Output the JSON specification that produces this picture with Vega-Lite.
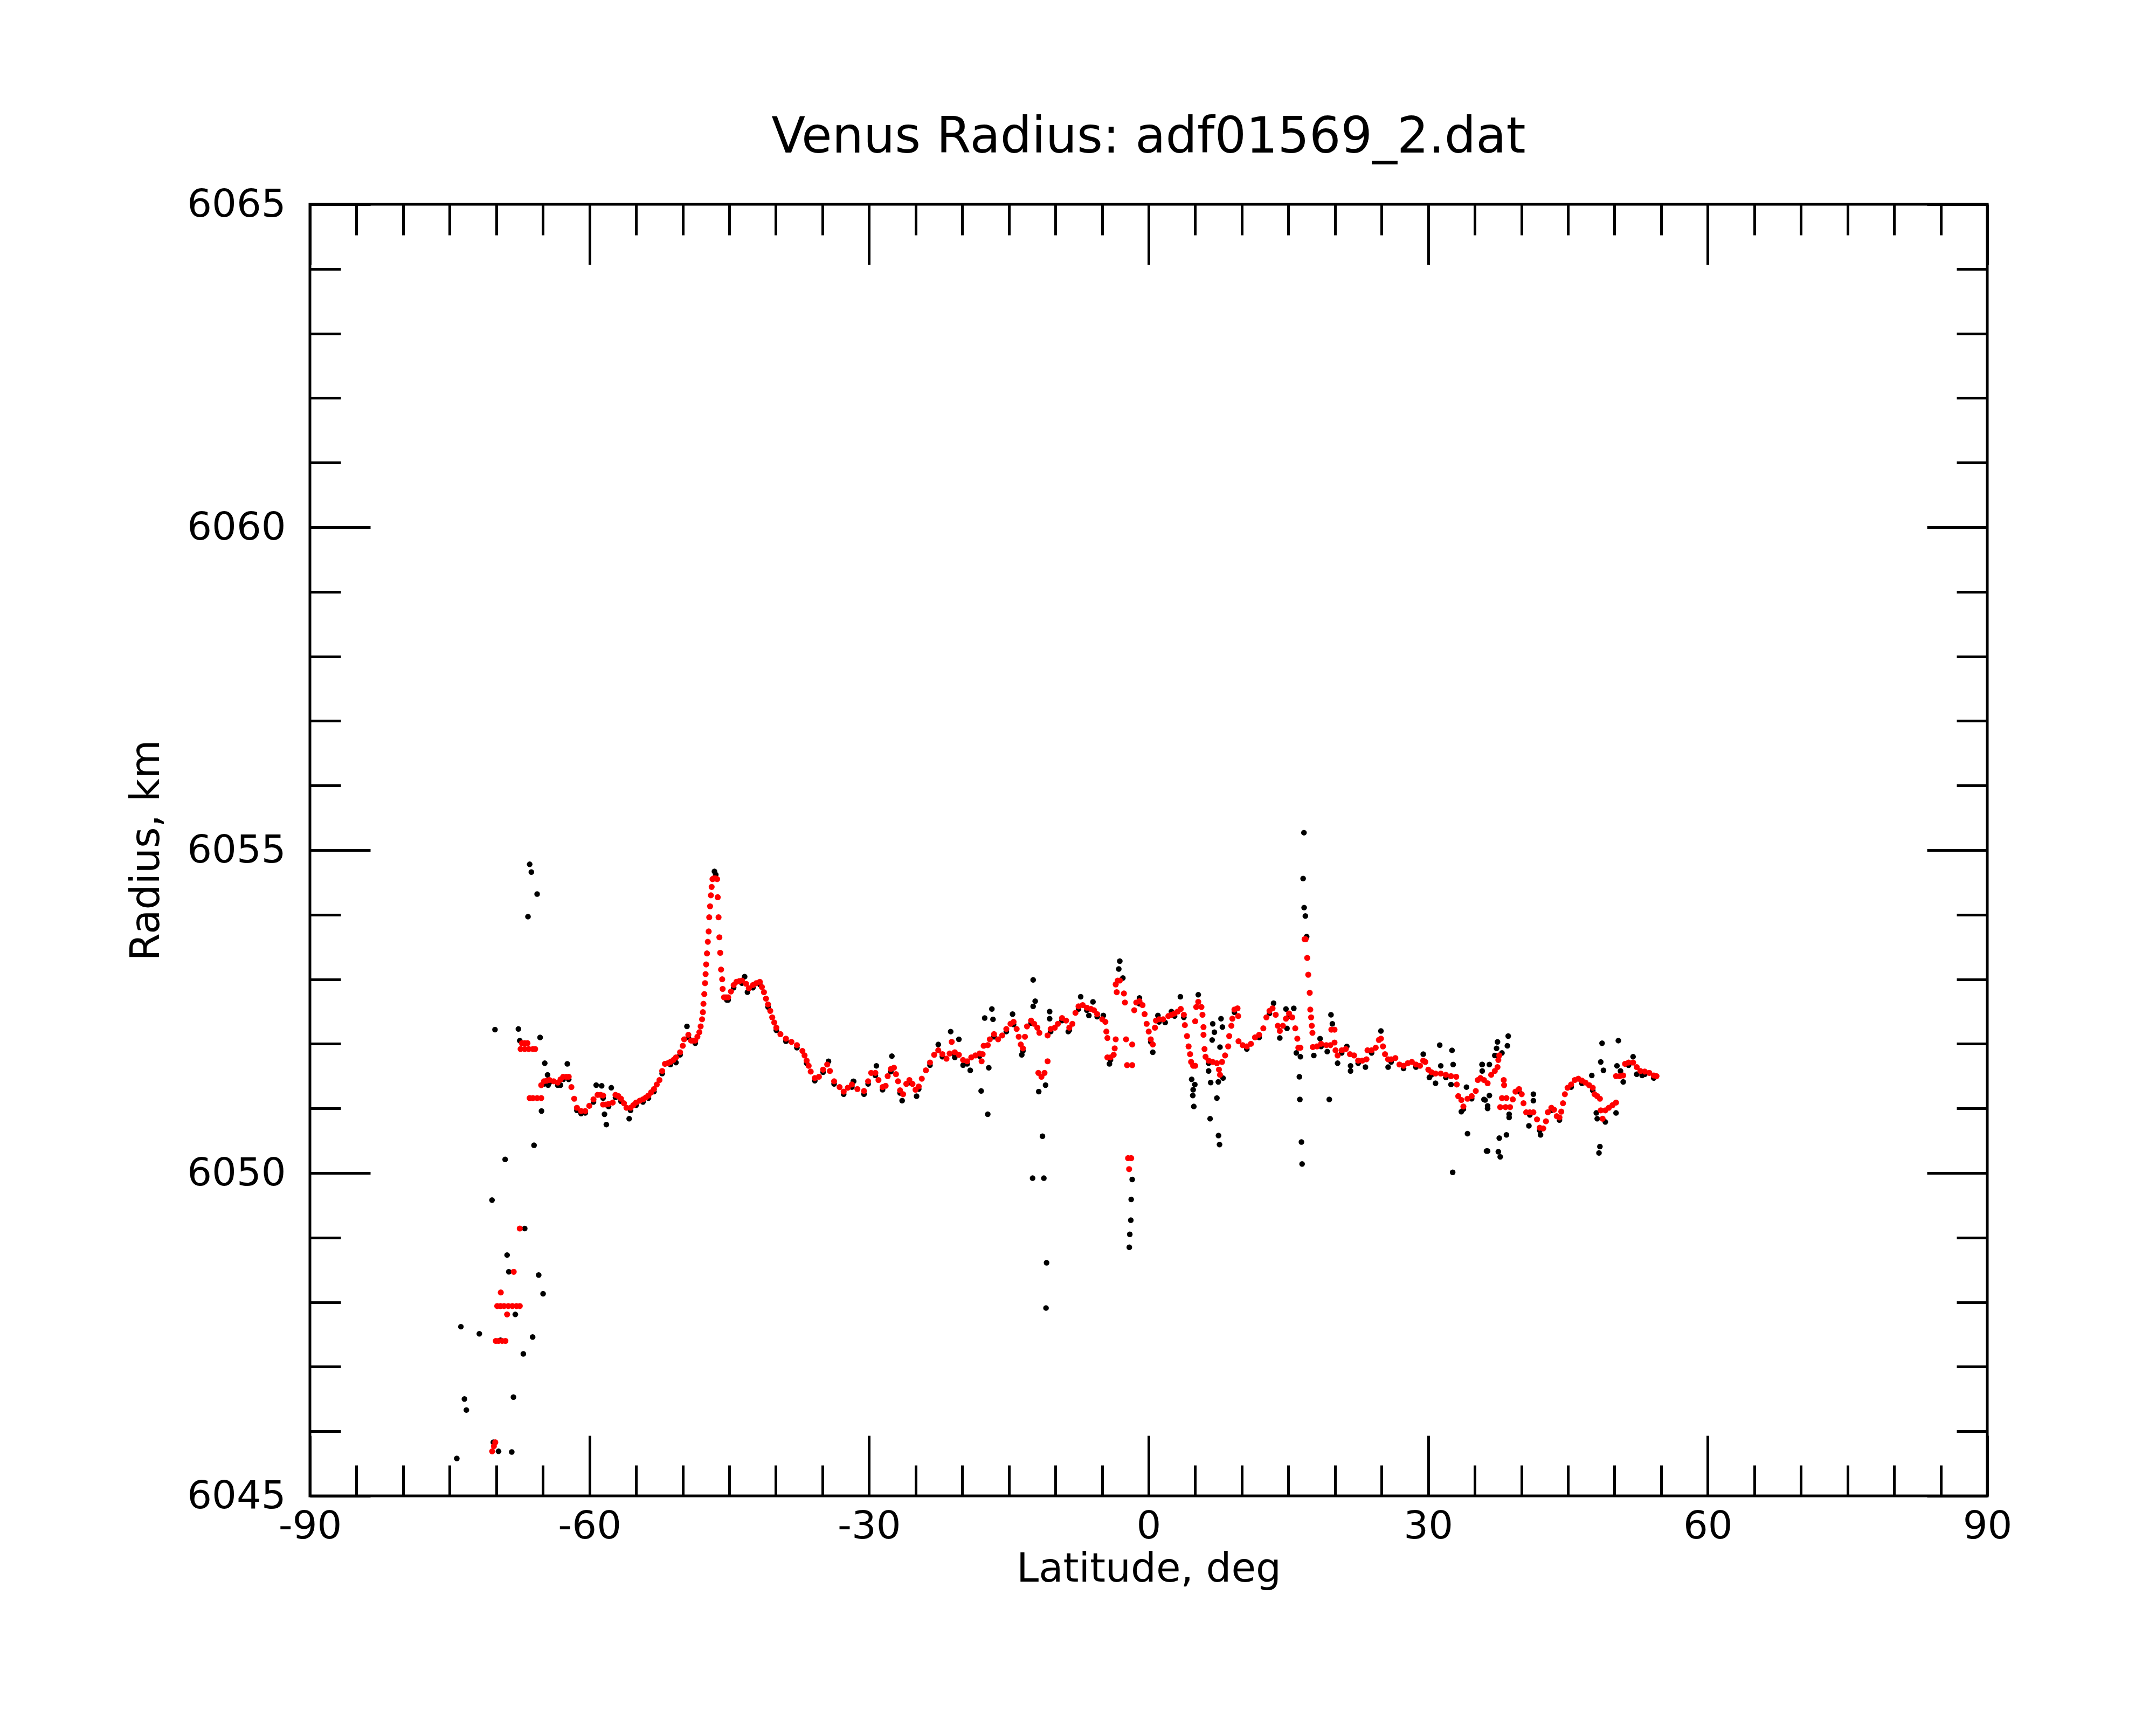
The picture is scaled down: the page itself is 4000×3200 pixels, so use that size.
{
  "$schema": "https://vega.github.io/schema/vega-lite/v6.json",
  "width": 3112,
  "height": 2396,
  "autosize": {"type": "none"},
  "padding": {"left": 575, "top": 379, "right": 313, "bottom": 425},
  "background": "white",
  "title": {"text": "Venus Radius: adf01569_2.dat", "font": "DejaVu Sans", "fontSize": 92, "fontWeight": "normal", "color": "black", "anchor": "middle", "frame": "group", "baseline": "alphabetic", "offset": -32},
  "config": {
    "view": {"stroke": "black", "strokeWidth": 5},
    "axis": {"domain": false, "grid": false, "tickColor": "black", "tickWidth": 5, "tickCap": "butt", "labelFont": "DejaVu Sans", "labelFontSize": 72, "labelColor": "black", "labelLimit": 0, "titleFont": "DejaVu Sans", "titleFontSize": 74, "titleFontWeight": "normal", "titleColor": "black", "labelFlush": false, "labelOverlap": false}
  },
  "datasets": {
    "smooth": [
      {"lat":-70.44,"r":6045.69},{"lat":-70.26,"r":6045.77},{"lat":-70.11,"r":6045.83},
      {"lat":-70.05,"r":6047.40},{"lat":-69.76,"r":6047.40},{"lat":-69.37,"r":6047.40},{"lat":-69.02,"r":6047.40},
      {"lat":-69.90,"r":6047.94},{"lat":-69.55,"r":6047.94},{"lat":-69.17,"r":6047.94},{"lat":-68.72,"r":6047.94},{"lat":-68.28,"r":6047.94},{"lat":-67.84,"r":6047.94},{"lat":-67.48,"r":6047.94},
      {"lat":-69.52,"r":6048.15},{"lat":-68.84,"r":6047.81},{"lat":-68.13,"r":6048.47},{"lat":-67.48,"r":6049.14},
      {"lat":-67.25,"r":6052.01},{"lat":-66.95,"r":6052.01},{"lat":-66.66,"r":6052.01},
      {"lat":-67.39,"r":6051.92},{"lat":-66.95,"r":6051.92},{"lat":-66.51,"r":6051.92},{"lat":-66.07,"r":6051.92},{"lat":-65.83,"r":6051.92},
      {"lat":-66.42,"r":6051.16},{"lat":-66.07,"r":6051.16},{"lat":-65.62,"r":6051.16},{"lat":-65.18,"r":6051.16},
      {"lat":-65.18,"r":6051.36},{"lat":-64.89,"r":6051.42},{"lat":-64.60,"r":6051.43},{"lat":-64.30,"r":6051.44},{"lat":-63.85,"r":6051.42},{"lat":-63.41,"r":6051.40},{"lat":-63.10,"r":6051.45},{"lat":-62.82,"r":6051.49},{"lat":-62.50,"r":6051.49},{"lat":-62.23,"r":6051.49},
      {"lat":-61.94,"r":6051.33},{"lat":-61.64,"r":6051.15},{"lat":-61.35,"r":6051.01},{"lat":-60.90,"r":6050.96},{"lat":-60.46,"r":6050.96},{"lat":-60.02,"r":6051.04},{"lat":-59.57,"r":6051.14},{"lat":-59.13,"r":6051.21},{"lat":-58.80,"r":6051.21},{"lat":-58.54,"r":6051.20},
      {"lat":-58.54,"r":6051.06},{"lat":-58.25,"r":6051.06},{"lat":-57.95,"r":6051.07},{"lat":-57.51,"r":6051.09},{"lat":-57.21,"r":6051.21},{"lat":-56.90,"r":6051.19},{"lat":-56.62,"r":6051.15},{"lat":-56.30,"r":6051.08},{"lat":-56.03,"r":6051.01},{"lat":-55.59,"r":6051.01},{"lat":-55.30,"r":6051.05},{"lat":-55.00,"r":6051.09},{"lat":-54.60,"r":6051.12},{"lat":-54.26,"r":6051.14},{"lat":-53.95,"r":6051.17},{"lat":-53.67,"r":6051.20},{"lat":-53.38,"r":6051.25},{"lat":-53.08,"r":6051.30},{"lat":-52.78,"r":6051.37},{"lat":-52.49,"r":6051.44},{"lat":-52.20,"r":6051.58},{"lat":-51.90,"r":6051.69},{"lat":-51.60,"r":6051.70},{"lat":-51.31,"r":6051.72},{"lat":-51.00,"r":6051.75},{"lat":-50.72,"r":6051.79},{"lat":-50.28,"r":6051.87},{"lat":-49.99,"r":6051.97},{"lat":-49.84,"r":6052.07},{"lat":-49.39,"r":6052.14},{"lat":-49.10,"r":6052.05},{"lat":-48.88,"r":6052.05},{"lat":-48.65,"r":6052.05},{"lat":-48.42,"r":6052.11},{"lat":-48.21,"r":6052.18},{"lat":-48.07,"r":6052.27},{"lat":-47.92,"r":6052.38},{"lat":-47.83,"r":6052.49},{"lat":-47.77,"r":6052.62},{"lat":-47.68,"r":6052.77},{"lat":-47.60,"r":6052.94},{"lat":-47.54,"r":6053.08},{"lat":-47.48,"r":6053.23},{"lat":-47.39,"r":6053.40},{"lat":-47.30,"r":6053.58},{"lat":-47.21,"r":6053.74},{"lat":-47.15,"r":6053.96},{"lat":-47.06,"r":6054.13},{"lat":-46.97,"r":6054.30},{"lat":-46.89,"r":6054.43},{"lat":-46.80,"r":6054.55},{"lat":-46.69,"r":6054.56},{"lat":-46.59,"r":6054.56},{"lat":-46.45,"r":6054.56},{"lat":-46.30,"r":6054.55},{"lat":-46.24,"r":6054.27},{"lat":-46.15,"r":6053.96},{"lat":-46.06,"r":6053.65},{"lat":-45.97,"r":6053.41},{"lat":-45.88,"r":6053.15},{"lat":-45.76,"r":6053.00},{"lat":-45.71,"r":6052.85},{"lat":-45.56,"r":6052.72},{"lat":-45.35,"r":6052.72},{"lat":-45.12,"r":6052.72},{"lat":-44.82,"r":6052.81},{"lat":-44.53,"r":6052.91},{"lat":-44.23,"r":6052.96},{"lat":-43.94,"r":6052.97},{"lat":-43.64,"r":6052.98},{"lat":-43.20,"r":6052.93},{"lat":-42.90,"r":6052.86},{"lat":-42.46,"r":6052.91},{"lat":-42.10,"r":6052.94},{"lat":-41.72,"r":6052.96},{"lat":-41.50,"r":6052.88},{"lat":-41.28,"r":6052.80},{"lat":-41.06,"r":6052.70},{"lat":-40.84,"r":6052.61},{"lat":-40.60,"r":6052.51},{"lat":-40.39,"r":6052.41},{"lat":-40.17,"r":6052.33},{"lat":-39.95,"r":6052.25},{"lat":-39.51,"r":6052.15},{"lat":-38.92,"r":6052.08},{"lat":-38.33,"r":6052.03},{"lat":-37.74,"r":6051.98},{"lat":-37.15,"r":6051.89},{"lat":-36.92,"r":6051.82},{"lat":-36.70,"r":6051.74},{"lat":-36.48,"r":6051.66},{"lat":-36.26,"r":6051.57},{"lat":-35.82,"r":6051.47},{"lat":-35.38,"r":6051.49},{"lat":-34.93,"r":6051.60},{"lat":-34.49,"r":6051.68},{"lat":-34.20,"r":6051.58},{"lat":-33.75,"r":6051.42},{"lat":-33.16,"r":6051.33},{"lat":-32.72,"r":6051.26},{"lat":-32.28,"r":6051.32},{"lat":-31.84,"r":6051.37},{"lat":-31.25,"r":6051.30},
      {"lat":-30.54,"r":6051.27},{"lat":-30.10,"r":6051.42},{"lat":-29.77,"r":6051.55},{"lat":-29.32,"r":6051.55},{"lat":-28.99,"r":6051.44},{"lat":-28.55,"r":6051.33},{"lat":-28.22,"r":6051.35},{"lat":-28.00,"r":6051.50},{"lat":-27.66,"r":6051.61},{"lat":-27.33,"r":6051.63},{"lat":-27.11,"r":6051.53},{"lat":-26.89,"r":6051.42},{"lat":-26.67,"r":6051.28},{"lat":-26.34,"r":6051.22},{"lat":-26.00,"r":6051.38},{"lat":-25.67,"r":6051.44},{"lat":-25.34,"r":6051.38},{"lat":-25.01,"r":6051.29},{"lat":-24.67,"r":6051.34},{"lat":-24.34,"r":6051.46},{"lat":-23.90,"r":6051.59},{"lat":-23.46,"r":6051.71},{"lat":-23.01,"r":6051.83},{"lat":-22.57,"r":6051.90},{"lat":-22.13,"r":6051.84},{"lat":-21.69,"r":6051.77},{"lat":-21.35,"r":6051.85},{"lat":-21.13,"r":6052.03},{"lat":-20.80,"r":6051.87},{"lat":-20.36,"r":6051.83},{"lat":-19.91,"r":6051.75},{"lat":-19.47,"r":6051.73},{"lat":-19.03,"r":6051.79},{"lat":-18.59,"r":6051.82},{"lat":-18.14,"r":6051.85},{"lat":-17.92,"r":6051.73},{"lat":-17.81,"r":6051.84},{"lat":-17.70,"r":6051.97},{"lat":-17.26,"r":6051.98},{"lat":-17.04,"r":6052.07},{"lat":-16.59,"r":6052.15},{"lat":-16.15,"r":6052.07},{"lat":-15.71,"r":6052.13},{"lat":-15.27,"r":6052.23},{"lat":-14.82,"r":6052.31},{"lat":-14.49,"r":6052.34},{"lat":-14.16,"r":6052.23},{"lat":-13.94,"r":6052.11},{"lat":-13.72,"r":6051.99},{"lat":-13.49,"r":6051.93},{"lat":-13.27,"r":6052.11},{"lat":-13.05,"r":6052.27},{"lat":-12.61,"r":6052.36},{"lat":-12.28,"r":6052.31},{"lat":-11.94,"r":6052.25},{"lat":-11.72,"r":6052.17},{"lat":-11.83,"r":6051.55},{"lat":-11.50,"r":6051.49},{"lat":-11.17,"r":6051.55},{"lat":-10.84,"r":6051.73},{"lat":-10.84,"r":6052.13},{"lat":-10.51,"r":6052.23},{"lat":-10.07,"r":6052.25},{"lat":-9.73,"r":6052.31},{"lat":-9.29,"r":6052.40},{"lat":-8.85,"r":6052.36},{"lat":-8.51,"r":6052.25},{"lat":-8.18,"r":6052.31},{"lat":-7.85,"r":6052.48},{"lat":-7.52,"r":6052.58},{"lat":-7.07,"r":6052.60},{"lat":-6.63,"r":6052.56},{"lat":-6.19,"r":6052.54},{"lat":-5.86,"r":6052.52},{"lat":-5.52,"r":6052.46},{"lat":-4.97,"r":6052.38},{"lat":-4.64,"r":6052.34},{"lat":-4.53,"r":6052.19},{"lat":-4.42,"r":6052.09},{"lat":-4.42,"r":6051.79},{"lat":-4.09,"r":6051.79},{"lat":-3.75,"r":6051.83},{"lat":-3.64,"r":6051.93},{"lat":-3.53,"r":6052.07},{"lat":-3.53,"r":6052.92},{"lat":-3.42,"r":6052.80},{"lat":-3.31,"r":6052.98},{"lat":-3.09,"r":6052.98},{"lat":-2.65,"r":6052.78},{"lat":-2.54,"r":6052.64},{"lat":-2.42,"r":6052.07},{"lat":-2.31,"r":6051.67},{"lat":-1.76,"r":6051.67},{"lat":-1.76,"r":6051.99},{"lat":-2.20,"r":6050.23},{"lat":-1.87,"r":6050.23},{"lat":-2.09,"r":6050.06},{"lat":-1.54,"r":6052.52},{"lat":-1.32,"r":6052.64},{"lat":-0.98,"r":6052.66},{"lat":-0.65,"r":6052.60},{"lat":-0.43,"r":6052.46},{"lat":-0.21,"r":6052.31},{"lat":0.01,"r":6052.19},{"lat":0.23,"r":6052.07},{"lat":0.45,"r":6051.99},{"lat":0.68,"r":6052.25},{"lat":0.79,"r":6052.36},{"lat":1.12,"r":6052.38},{"lat":1.56,"r":6052.38},
      {"lat":2.12,"r":6052.43},{"lat":2.45,"r":6052.45},{"lat":2.79,"r":6052.47},{"lat":3.12,"r":6052.50},{"lat":3.45,"r":6052.54},{"lat":3.78,"r":6052.45},{"lat":3.89,"r":6052.29},{"lat":4.12,"r":6052.12},{"lat":4.29,"r":6051.96},{"lat":4.45,"r":6051.84},{"lat":4.56,"r":6051.72},{"lat":4.78,"r":6051.66},{"lat":5.00,"r":6051.66},{"lat":5.00,"r":6052.35},{"lat":5.11,"r":6052.57},{"lat":5.33,"r":6052.65},{"lat":5.67,"r":6052.57},{"lat":5.78,"r":6052.45},{"lat":5.89,"r":6052.26},{"lat":5.89,"r":6052.14},{"lat":6.00,"r":6051.92},{"lat":6.11,"r":6051.80},{"lat":6.44,"r":6051.74},{"lat":6.88,"r":6051.72},{"lat":7.33,"r":6051.70},{"lat":7.55,"r":6051.60},{"lat":7.66,"r":6051.52},{"lat":7.88,"r":6051.72},{"lat":8.21,"r":6051.82},{"lat":8.54,"r":6051.96},{"lat":8.65,"r":6052.12},{"lat":8.88,"r":6052.28},{"lat":8.99,"r":6052.39},{"lat":9.21,"r":6052.53},{"lat":9.54,"r":6052.55},{"lat":9.61,"r":6052.43},{"lat":9.65,"r":6052.04},{"lat":10.09,"r":6051.98},{"lat":10.54,"r":6051.96},{"lat":10.98,"r":6052.00},{"lat":11.42,"r":6052.10},{"lat":11.86,"r":6052.14},{"lat":12.31,"r":6052.24},{"lat":12.64,"r":6052.41},{"lat":12.97,"r":6052.51},{"lat":13.30,"r":6052.55},{"lat":13.64,"r":6052.45},{"lat":13.86,"r":6052.28},{"lat":14.08,"r":6052.20},{"lat":14.41,"r":6052.28},{"lat":14.74,"r":6052.39},{"lat":15.07,"r":6052.47},{"lat":15.41,"r":6052.41},{"lat":15.74,"r":6052.24},{"lat":15.96,"r":6052.08},{"lat":16.07,"r":6051.94},{"lat":16.29,"r":6051.94},{"lat":16.74,"r":6053.62},{"lat":16.85,"r":6053.62},{"lat":17.02,"r":6053.33},{"lat":17.13,"r":6053.07},{"lat":17.29,"r":6052.79},{"lat":17.35,"r":6052.53},{"lat":17.44,"r":6052.41},{"lat":17.51,"r":6052.28},{"lat":17.58,"r":6052.17},{"lat":17.62,"r":6051.95},{"lat":18.06,"r":6051.96},{"lat":18.51,"r":6052.00},{"lat":19.06,"r":6051.98},{"lat":19.50,"r":6051.98},{"lat":19.61,"r":6052.22},{"lat":19.95,"r":6052.22},{"lat":19.95,"r":6052.02},{"lat":20.06,"r":6051.90},{"lat":20.28,"r":6051.82},{"lat":20.72,"r":6051.90},{"lat":21.16,"r":6051.92},{"lat":21.61,"r":6051.84},{"lat":22.05,"r":6051.82},{"lat":22.49,"r":6051.74},{"lat":22.93,"r":6051.74},{"lat":23.38,"r":6051.76},{"lat":23.49,"r":6051.90},{"lat":23.93,"r":6051.90},{"lat":24.37,"r":6051.94},{"lat":24.71,"r":6052.06},{"lat":24.93,"r":6052.08},{"lat":25.15,"r":6051.96},{"lat":25.37,"r":6051.84},{"lat":25.70,"r":6051.76},{"lat":26.03,"r":6051.76},{"lat":26.48,"r":6051.78},{"lat":26.92,"r":6051.68},{"lat":27.36,"r":6051.66},{"lat":27.81,"r":6051.70},{"lat":28.25,"r":6051.72},{"lat":28.69,"r":6051.68},{"lat":29.13,"r":6051.66},{"lat":29.47,"r":6051.74},{"lat":29.69,"r":6051.72},{"lat":30.02,"r":6051.60},{"lat":30.35,"r":6051.56},{"lat":30.79,"r":6051.54},{"lat":31.35,"r":6051.54},{"lat":31.90,"r":6051.52},{"lat":32.45,"r":6051.50},{"lat":33.01,"r":6051.49},{"lat":33.07,"r":6051.37},{"lat":33.23,"r":6051.19},{"lat":33.56,"r":6051.13},{"lat":33.78,"r":6051.03},{"lat":34.22,"r":6051.15},{"lat":34.67,"r":6051.19},{"lat":35.11,"r":6051.27},{"lat":35.33,"r":6051.44},
      {"lat":35.61,"r":6051.47},{"lat":35.99,"r":6051.44},{"lat":36.38,"r":6051.39},{"lat":36.76,"r":6051.52},{"lat":37.15,"r":6051.58},{"lat":37.44,"r":6051.64},{"lat":37.53,"r":6051.75},{"lat":37.63,"r":6051.82},{"lat":38.11,"r":6051.44},{"lat":38.15,"r":6051.36},{"lat":37.92,"r":6051.16},{"lat":38.40,"r":6051.16},{"lat":37.73,"r":6051.02},{"lat":38.30,"r":6051.02},{"lat":38.79,"r":6051.02},{"lat":39.08,"r":6051.14},{"lat":39.37,"r":6051.26},{"lat":39.75,"r":6051.30},{"lat":40.04,"r":6051.22},{"lat":40.23,"r":6051.08},{"lat":40.52,"r":6050.94},{"lat":40.91,"r":6050.94},{"lat":41.29,"r":6050.94},{"lat":41.68,"r":6050.83},{"lat":41.97,"r":6050.70},{"lat":42.35,"r":6050.69},{"lat":42.64,"r":6050.80},{"lat":42.84,"r":6050.94},{"lat":43.22,"r":6051.01},{"lat":43.51,"r":6050.98},{"lat":43.80,"r":6050.88},{"lat":44.09,"r":6050.86},{"lat":44.28,"r":6050.95},{"lat":44.47,"r":6051.08},{"lat":44.67,"r":6051.22},{"lat":44.96,"r":6051.32},{"lat":45.34,"r":6051.37},{"lat":45.73,"r":6051.44},{"lat":46.11,"r":6051.46},{"lat":46.50,"r":6051.43},{"lat":46.88,"r":6051.40},{"lat":47.27,"r":6051.36},{"lat":47.66,"r":6051.32},{"lat":47.85,"r":6051.22},{"lat":48.14,"r":6051.19},{"lat":48.43,"r":6051.15},{"lat":48.52,"r":6050.97},{"lat":48.72,"r":6050.84},{"lat":49.01,"r":6050.97},{"lat":49.39,"r":6051.01},{"lat":49.78,"r":6051.05},{"lat":50.16,"r":6051.09},{"lat":50.16,"r":6051.50},{"lat":50.55,"r":6051.50},{"lat":50.93,"r":6051.51},{"lat":51.13,"r":6051.69},{"lat":51.51,"r":6051.71},{"lat":51.99,"r":6051.71},{"lat":52.38,"r":6051.64},{"lat":52.77,"r":6051.58},{"lat":53.25,"r":6051.57},{"lat":53.73,"r":6051.55},{"lat":54.21,"r":6051.51},{"lat":54.50,"r":6051.50}
    ],
    "raw": [
      {"lat":-66.42,"r":6054.78},{"lat":-66.24,"r":6054.66},{"lat":-65.62,"r":6054.32},{"lat":-66.60,"r":6053.97},{"lat":-70.14,"r":6052.22},{"lat":-67.63,"r":6052.23},{"lat":-67.48,"r":6052.05},{"lat":-65.30,"r":6052.10},{"lat":-64.80,"r":6051.70},{"lat":-64.50,"r":6051.52},{"lat":-65.15,"r":6050.96},{"lat":-65.95,"r":6050.43},{"lat":-69.05,"r":6050.21},{"lat":-70.46,"r":6049.58},{"lat":-66.95,"r":6049.14},{"lat":-68.84,"r":6048.73},{"lat":-68.66,"r":6048.47},{"lat":-65.45,"r":6048.42},{"lat":-64.98,"r":6048.13},{"lat":-67.96,"r":6047.81},{"lat":-73.80,"r":6047.62},{"lat":-71.82,"r":6047.51},{"lat":-66.10,"r":6047.46},{"lat":-69.55,"r":6047.41},{"lat":-67.10,"r":6047.20},{"lat":-73.42,"r":6046.50},{"lat":-73.21,"r":6046.33},{"lat":-68.16,"r":6046.53},{"lat":-70.32,"r":6045.83},{"lat":-69.76,"r":6045.69},{"lat":-68.34,"r":6045.68},{"lat":-74.24,"r":6045.58},
      {"lat":-59.28,"r":6051.36},{"lat":-58.69,"r":6051.35},{"lat":-58.39,"r":6050.91},{"lat":-58.19,"r":6050.75},{"lat":-57.66,"r":6051.32},{"lat":-55.74,"r":6050.84},{"lat":-62.38,"r":6051.69},{"lat":-49.54,"r":6052.27},{"lat":-43.35,"r":6053.04},{"lat":-43.05,"r":6052.80},{"lat":-46.59,"r":6054.67},{"lat":-34.35,"r":6051.73},{"lat":-31.69,"r":6051.42},{"lat":-64.44,"r":6051.36},{"lat":-63.11,"r":6051.36},{"lat":-50.72,"r":6051.71},{"lat":-45.26,"r":6052.68},
      {"lat":-31.65,"r":6051.42},{"lat":-30.54,"r":6051.22},{"lat":-29.21,"r":6051.66},{"lat":-27.55,"r":6051.81},{"lat":-26.45,"r":6051.12},{"lat":-24.90,"r":6051.19},{"lat":-22.57,"r":6051.99},{"lat":-21.24,"r":6052.19},{"lat":-20.80,"r":6051.79},{"lat":-20.36,"r":6052.07},{"lat":-19.91,"r":6051.67},{"lat":-19.14,"r":6051.59},{"lat":-17.97,"r":6051.27},{"lat":-17.26,"r":6050.91},{"lat":-16.82,"r":6052.54},{"lat":-17.59,"r":6052.40},{"lat":-16.70,"r":6052.38},{"lat":-17.15,"r":6051.63},{"lat":-14.60,"r":6052.46},{"lat":-13.61,"r":6051.83},{"lat":-12.39,"r":6052.99},{"lat":-12.17,"r":6052.66},{"lat":-12.39,"r":6052.58},{"lat":-11.79,"r":6051.26},{"lat":-11.06,"r":6051.36},{"lat":-11.39,"r":6050.57},{"lat":-12.45,"r":6049.92},{"lat":-11.24,"r":6049.92},{"lat":-10.95,"r":6048.61},{"lat":-11.01,"r":6047.91},{"lat":-10.62,"r":6052.50},{"lat":-10.62,"r":6052.39},{"lat":-8.62,"r":6052.19},{"lat":-7.29,"r":6052.73},{"lat":-5.97,"r":6052.65},{"lat":-6.41,"r":6052.44},{"lat":-4.86,"r":6052.44},{"lat":-4.20,"r":6051.69},{"lat":-3.09,"r":6053.28},{"lat":-3.20,"r":6053.16},{"lat":-2.76,"r":6053.02},{"lat":-1.76,"r":6049.90},{"lat":-1.87,"r":6049.59},{"lat":-1.91,"r":6049.27},{"lat":-2.02,"r":6049.05},{"lat":-2.07,"r":6048.85},{"lat":-0.98,"r":6052.71},{"lat":0.45,"r":6051.87},{"lat":1.00,"r":6052.44},{"lat":1.78,"r":6052.33},{"lat":2.45,"r":6052.50},
      {"lat":16.67,"r":6055.27},{"lat":16.58,"r":6054.56},{"lat":16.69,"r":6054.11},{"lat":16.82,"r":6053.98},{"lat":16.96,"r":6053.66},{"lat":16.18,"r":6051.49},{"lat":16.23,"r":6051.14},{"lat":16.40,"r":6050.48},{"lat":16.47,"r":6050.14},{"lat":15.85,"r":6051.86},{"lat":16.29,"r":6051.80},{"lat":15.58,"r":6052.55},{"lat":14.74,"r":6052.54},{"lat":14.85,"r":6052.24},{"lat":13.41,"r":6052.63},{"lat":14.08,"r":6052.09},{"lat":3.41,"r":6052.73},{"lat":5.33,"r":6052.76},{"lat":4.62,"r":6051.45},{"lat":4.96,"r":6051.37},{"lat":4.78,"r":6051.29},{"lat":4.74,"r":6051.20},{"lat":4.85,"r":6051.03},{"lat":6.88,"r":6052.31},{"lat":7.06,"r":6052.18},{"lat":6.82,"r":6052.06},{"lat":7.77,"r":6052.39},{"lat":7.92,"r":6052.26},{"lat":7.66,"r":6051.95},{"lat":6.44,"r":6051.58},{"lat":6.66,"r":6051.40},{"lat":7.99,"r":6051.47},{"lat":7.48,"r":6051.41},{"lat":7.33,"r":6051.16},{"lat":6.60,"r":6050.84},{"lat":7.50,"r":6050.58},{"lat":7.61,"r":6050.44},{"lat":19.57,"r":6052.45},{"lat":19.72,"r":6052.31},{"lat":19.39,"r":6051.14},{"lat":17.73,"r":6051.82},{"lat":18.40,"r":6052.08},{"lat":19.17,"r":6051.88},{"lat":20.28,"r":6051.70},{"lat":21.27,"r":6051.96},{"lat":21.67,"r":6051.66},{"lat":21.67,"r":6051.58},{"lat":23.27,"r":6051.64},{"lat":24.93,"r":6052.20},{"lat":25.70,"r":6051.64},{"lat":29.47,"r":6051.84},{"lat":30.13,"r":6051.48},{"lat":30.79,"r":6051.39},{"lat":31.24,"r":6051.98},{"lat":31.35,"r":6051.66},{"lat":32.56,"r":6051.90},{"lat":32.68,"r":6051.68},{"lat":32.45,"r":6051.37},{"lat":32.63,"r":6050.01},{"lat":33.56,"r":6050.95},{"lat":34.11,"r":6051.33},{"lat":34.22,"r":6050.61},{"lat":35.78,"r":6051.68},{"lat":36.11,"r":6051.13},{"lat":36.26,"r":6050.34},
      {"lat":38.59,"r":6052.12},{"lat":38.50,"r":6051.97},{"lat":37.44,"r":6052.03},{"lat":37.34,"r":6051.93},{"lat":37.15,"r":6051.82},{"lat":37.92,"r":6051.86},{"lat":35.80,"r":6051.68},{"lat":35.80,"r":6051.58},{"lat":36.57,"r":6051.68},{"lat":36.57,"r":6051.20},{"lat":35.99,"r":6051.14},{"lat":36.38,"r":6051.04},{"lat":36.38,"r":6051.00},{"lat":38.69,"r":6050.91},{"lat":38.69,"r":6050.86},{"lat":37.63,"r":6050.54},{"lat":38.40,"r":6050.59},{"lat":36.38,"r":6050.34},{"lat":37.53,"r":6050.33},{"lat":37.73,"r":6050.25},{"lat":41.29,"r":6051.22},{"lat":41.29,"r":6051.12},{"lat":40.81,"r":6050.73},{"lat":42.06,"r":6050.59},{"lat":47.56,"r":6051.51},{"lat":48.66,"r":6052.01},{"lat":50.41,"r":6052.05},{"lat":48.52,"r":6051.72},{"lat":48.81,"r":6051.59},{"lat":48.04,"r":6050.93},{"lat":48.14,"r":6050.84},{"lat":49.01,"r":6050.79},{"lat":50.16,"r":6050.93},{"lat":48.43,"r":6050.41},{"lat":48.33,"r":6050.31},{"lat":50.26,"r":6051.66},{"lat":50.64,"r":6051.58},{"lat":50.93,"r":6051.41},{"lat":51.99,"r":6051.80},{"lat":52.38,"r":6051.53},{"lat":52.96,"r":6051.51},
      {"lat":-64.89,"r":6051.38},{"lat":-64.30,"r":6051.40},{"lat":-63.41,"r":6051.36},{"lat":-62.82,"r":6051.45},{"lat":-62.23,"r":6051.45},{"lat":-61.35,"r":6050.97},{"lat":-60.90,"r":6050.92},{"lat":-60.46,"r":6050.93},{"lat":-59.57,"r":6051.10},{"lat":-58.54,"r":6051.16},{"lat":-57.95,"r":6051.03},{"lat":-57.21,"r":6051.17},{"lat":-56.62,"r":6051.11},{"lat":-55.59,"r":6050.97},{"lat":-55.00,"r":6051.05},{"lat":-54.26,"r":6051.10},{"lat":-53.67,"r":6051.16},{"lat":-53.08,"r":6051.26},{"lat":-52.20,"r":6051.54},{"lat":-51.31,"r":6051.68},{"lat":-50.28,"r":6051.83},{"lat":-49.39,"r":6052.10},{"lat":-48.65,"r":6052.01},{"lat":-46.45,"r":6054.62},{"lat":-45.12,"r":6052.68},{"lat":-44.53,"r":6052.87},{"lat":-43.64,"r":6052.94},{"lat":-42.46,"r":6052.87},{"lat":-41.72,"r":6052.92},{"lat":-40.84,"r":6052.57},{"lat":-39.95,"r":6052.21},{"lat":-38.92,"r":6052.04},{"lat":-37.74,"r":6051.94},{"lat":-36.70,"r":6051.70},{"lat":-35.82,"r":6051.43},{"lat":-34.93,"r":6051.56},{"lat":-33.75,"r":6051.38},{"lat":-32.72,"r":6051.22},{"lat":-31.84,"r":6051.33},{"lat":-30.10,"r":6051.38},{"lat":-29.32,"r":6051.51},{"lat":-28.55,"r":6051.29},{"lat":-27.66,"r":6051.57},{"lat":-26.67,"r":6051.24},{"lat":-25.67,"r":6051.40},{"lat":-24.67,"r":6051.30},{"lat":-23.46,"r":6051.67},{"lat":-22.13,"r":6051.80},{"lat":-20.80,"r":6051.83},{"lat":-19.47,"r":6051.69},{"lat":-18.14,"r":6051.81},{"lat":-16.59,"r":6052.11},{"lat":-15.27,"r":6052.19},{"lat":-14.49,"r":6052.30},{"lat":-13.49,"r":6051.89},{"lat":-12.61,"r":6052.32},{"lat":-10.51,"r":6052.19},{"lat":-9.29,"r":6052.36},{"lat":-8.51,"r":6052.21},{"lat":-7.52,"r":6052.54},{"lat":-6.63,"r":6052.52},{"lat":-5.52,"r":6052.42},{"lat":-4.09,"r":6051.75},{"lat":-0.98,"r":6052.62},{"lat":0.23,"r":6052.03},{"lat":1.12,"r":6052.34},{"lat":2.79,"r":6052.43},{"lat":3.78,"r":6052.41},{"lat":6.44,"r":6051.70},{"lat":9.21,"r":6052.49},{"lat":10.54,"r":6051.92},{"lat":11.86,"r":6052.10},{"lat":12.97,"r":6052.47},{"lat":15.07,"r":6052.43},{"lat":18.51,"r":6051.96},{"lat":20.72,"r":6051.86},{"lat":22.49,"r":6051.70},{"lat":23.93,"r":6051.86},{"lat":26.03,"r":6051.72},{"lat":27.36,"r":6051.62},{"lat":28.69,"r":6051.64},{"lat":30.35,"r":6051.52},{"lat":31.90,"r":6051.48},{"lat":33.78,"r":6050.99},{"lat":34.67,"r":6051.15},{"lat":39.75,"r":6051.26},{"lat":40.91,"r":6050.90},{"lat":41.97,"r":6050.66},{"lat":43.22,"r":6050.97},{"lat":44.09,"r":6050.82},{"lat":45.34,"r":6051.33},{"lat":46.50,"r":6051.39},{"lat":47.66,"r":6051.28},{"lat":51.51,"r":6051.67},{"lat":53.25,"r":6051.53},{"lat":54.21,"r":6051.47}
    ]
  },
  "resolve": {"axis": {"x": "independent", "y": "independent"}},
  "layer": [
    {
      "data": {"name": "smooth"},
      "mark": {"type": "point", "opacity": 0},
      "encoding": {
        "x": {"field": "lat", "type": "quantitative", "scale": {"domain": [-90, 90], "nice": false, "zero": false},
              "axis": {"orient": "top", "values": [-90, -60, -30, 0, 30, 60, 90], "tickSize": -112, "labels": false, "title": null}},
        "y": {"field": "r", "type": "quantitative", "scale": {"domain": [6045, 6065], "nice": false, "zero": false},
              "axis": {"orient": "right", "values": [6045, 6050, 6055, 6060, 6065], "tickSize": -112, "labels": false, "title": null}}
      }
    },
    {
      "data": {"name": "smooth"},
      "mark": {"type": "point", "opacity": 0},
      "encoding": {
        "x": {"field": "lat", "type": "quantitative", "scale": {"domain": [-90, 90], "nice": false, "zero": false},
              "axis": {"orient": "top", "values": [-85,-80,-75,-70,-65,-55,-50,-45,-40,-35,-25,-20,-15,-10,-5,5,10,15,20,25,35,40,45,50,55,65,70,75,80,85], "tickSize": -57, "labels": false, "title": null}},
        "y": {"field": "r", "type": "quantitative", "scale": {"domain": [6045, 6065], "nice": false, "zero": false},
              "axis": {"orient": "right", "values": [6046,6047,6048,6049,6051,6052,6053,6054,6056,6057,6058,6059,6061,6062,6063,6064], "tickSize": -57, "labels": false, "title": null}}
      }
    },
    {
      "data": {"name": "raw"},
      "mark": {"type": "circle", "color": "black", "size": 110, "opacity": 1},
      "encoding": {
        "x": {"field": "lat", "type": "quantitative", "scale": {"domain": [-90, 90], "nice": false, "zero": false},
              "axis": {"orient": "bottom", "values": [-90, -60, -30, 0, 30, 60, 90], "tickSize": -112, "labelPadding": 133, "labelExpr": "'' + datum.value", "title": "Latitude, deg", "titlePadding": 8}},
        "y": {"field": "r", "type": "quantitative", "scale": {"domain": [6045, 6065], "nice": false, "zero": false},
              "axis": {"orient": "left", "values": [6045, 6050, 6055, 6060, 6065], "tickSize": -112, "labelPadding": 157, "labelExpr": "'' + datum.value", "title": "Radius, km", "titlePadding": 65}}
      }
    },
    {
      "data": {"name": "smooth"},
      "mark": {"type": "circle", "color": "#ff0000", "size": 125, "opacity": 1},
      "encoding": {
        "x": {"field": "lat", "type": "quantitative", "scale": {"domain": [-90, 90], "nice": false, "zero": false},
              "axis": {"orient": "bottom", "values": [-85,-80,-75,-70,-65,-55,-50,-45,-40,-35,-25,-20,-15,-10,-5,5,10,15,20,25,35,40,45,50,55,65,70,75,80,85], "tickSize": -57, "labels": false, "title": null}},
        "y": {"field": "r", "type": "quantitative", "scale": {"domain": [6045, 6065], "nice": false, "zero": false},
              "axis": {"orient": "left", "values": [6046,6047,6048,6049,6051,6052,6053,6054,6056,6057,6058,6059,6061,6062,6063,6064], "tickSize": -57, "labels": false, "title": null}}
      }
    }
  ]
}
